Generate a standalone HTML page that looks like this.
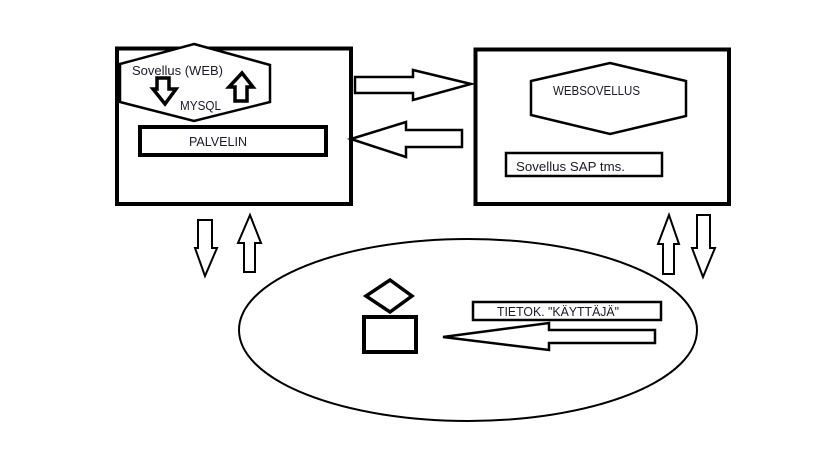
<!DOCTYPE html>
<html>
<head>
<meta charset="utf-8">
<style>
  html, body { margin: 0; padding: 0; background: #fff; }
  svg { display: block; }
  text { font-family: "Liberation Sans", "DejaVu Sans", sans-serif; font-size: 13px; fill: #1a1a2a; }
</style>
</head>
<body>
<svg width="819" height="460" viewBox="0 0 819 460" xmlns="http://www.w3.org/2000/svg">
  <rect x="0" y="0" width="819" height="460" fill="#fff"/>

  <!-- Left box -->
  <rect x="117" y="48.5" width="234" height="155.5" fill="none" stroke="#000" stroke-width="4"/>
  <!-- Hexagon in left box -->
  <polygon points="194,44 270,65 270,102 194,121 120,102 120,64" fill="#fff" stroke="#000" stroke-width="2.5"/>
  <text x="132" y="75" textLength="91" lengthAdjust="spacingAndGlyphs">Sovellus (WEB)</text>
  <!-- down arrow in hexagon -->
  <polygon points="157,78 169,78 169,89 176,89 165,104 153,89 157,89" fill="#fff" stroke="#000" stroke-width="3.5" stroke-linejoin="miter"/>
  <!-- up arrow in hexagon -->
  <polygon points="242,73 253,87 247,87 247,101 235,101 235,87 229,87" fill="#fff" stroke="#000" stroke-width="3.5"/>
  <text x="180" y="110" textLength="41" lengthAdjust="spacingAndGlyphs">MYSQL</text>
  <!-- PALVELIN box -->
  <rect x="140" y="127" width="186" height="28" fill="none" stroke="#000" stroke-width="4"/>
  <text x="189" y="146" textLength="58" lengthAdjust="spacingAndGlyphs">PALVELIN</text>

  <!-- Middle arrows -->
  <polygon points="355,77 413,77 413,70 471,84 413,100 413,93 355,93" fill="#fff" stroke="#000" stroke-width="2.5"/>
  <polygon points="351,139 406,122 406,130 462,130 462,147 406,147 406,157" fill="#fff" stroke="#000" stroke-width="2.5"/>

  <!-- Right box -->
  <rect x="475.5" y="49.5" width="253.5" height="154.5" fill="none" stroke="#000" stroke-width="4"/>
  <polygon points="610,63 686,81 686,116 610,134 531,115 531,81" fill="#fff" stroke="#000" stroke-width="2.5"/>
  <text x="553" y="95" textLength="87" lengthAdjust="spacingAndGlyphs">WEBSOVELLUS</text>
  <rect x="506" y="153" width="156" height="23" fill="none" stroke="#000" stroke-width="2.5"/>
  <text x="516" y="171" textLength="109" lengthAdjust="spacingAndGlyphs">Sovellus SAP tms.</text>

  <!-- Small vertical arrows left -->
  <polygon points="198,220 212,220 212,248 217,248 205,276 195,248 198,248" fill="#fff" stroke="#000" stroke-width="2"/>
  <polygon points="250,215 261,243 255,243 255,272 244,272 244,243 238,243" fill="#fff" stroke="#000" stroke-width="2"/>

  <!-- Small vertical arrows right -->
  <polygon points="669,215 679,244 674,244 674,274 663,274 663,244 658,244" fill="#fff" stroke="#000" stroke-width="2"/>
  <polygon points="697,215 710,215 710,248 715,248 703,277 692,248 697,248" fill="#fff" stroke="#000" stroke-width="2"/>

  <!-- Ellipse -->
  <ellipse cx="468" cy="330" rx="229" ry="91" fill="none" stroke="#000" stroke-width="2"/>

  <!-- Diamond & rectangle -->
  <polygon points="390,280 412,296 390,312 366,296" fill="#fff" stroke="#000" stroke-width="3.5"/>
  <rect x="364" y="317" width="52" height="35" fill="none" stroke="#000" stroke-width="4"/>

  <!-- TIETOK box -->
  <rect x="473" y="302" width="188" height="18" fill="none" stroke="#000" stroke-width="2.5"/>
  <text x="497" y="316" textLength="122" lengthAdjust="spacingAndGlyphs">TIETOK. "KÄYTTÄJÄ"</text>

  <!-- Big left arrow -->
  <polygon points="443,337 549,323 549,330 655,330 655,343 549,343 549,350" fill="#fff" stroke="#000" stroke-width="2.5"/>
</svg>
</body>
</html>
